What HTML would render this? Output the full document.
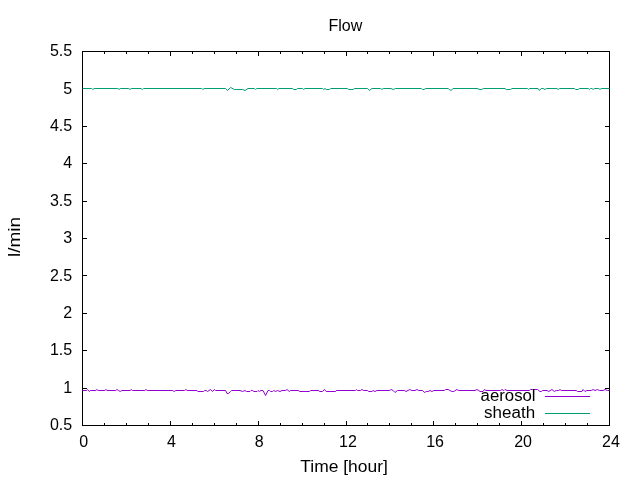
<!DOCTYPE html>
<html><head><meta charset="utf-8"><style>
html,body{margin:0;padding:0;background:#fff;}
svg{display:block;}
text{font-family:"Liberation Sans",sans-serif;font-size:16px;fill:#000;}
svg{will-change:transform;}
</style></head><body>
<svg width="640" height="480" viewBox="0 0 640 480">
<rect width="640" height="480" fill="#fff"/>
<path d="M82.50,425.50h4.5 M609.50,425.50h-4.5 M82.50,388.50h4.5 M609.50,388.50h-4.5 M82.50,350.50h4.5 M609.50,350.50h-4.5 M82.50,313.50h4.5 M609.50,313.50h-4.5 M82.50,275.50h4.5 M609.50,275.50h-4.5 M82.50,238.50h4.5 M609.50,238.50h-4.5 M82.50,201.50h4.5 M609.50,201.50h-4.5 M82.50,163.50h4.5 M609.50,163.50h-4.5 M82.50,126.50h4.5 M609.50,126.50h-4.5 M82.50,88.50h4.5 M609.50,88.50h-4.5 M82.50,51.50h4.5 M609.50,51.50h-4.5 M82.50,425.50v-4.5 M82.50,51.50v4.5 M104.50,425.50v-2.5 M104.50,51.50v2.5 M126.50,425.50v-2.5 M126.50,51.50v2.5 M148.50,425.50v-2.5 M148.50,51.50v2.5 M170.50,425.50v-4.5 M170.50,51.50v4.5 M192.50,425.50v-2.5 M192.50,51.50v2.5 M214.50,425.50v-2.5 M214.50,51.50v2.5 M236.50,425.50v-2.5 M236.50,51.50v2.5 M258.50,425.50v-4.5 M258.50,51.50v4.5 M280.50,425.50v-2.5 M280.50,51.50v2.5 M302.50,425.50v-2.5 M302.50,51.50v2.5 M324.50,425.50v-2.5 M324.50,51.50v2.5 M346.50,425.50v-4.5 M346.50,51.50v4.5 M367.50,425.50v-2.5 M367.50,51.50v2.5 M389.50,425.50v-2.5 M389.50,51.50v2.5 M411.50,425.50v-2.5 M411.50,51.50v2.5 M433.50,425.50v-4.5 M433.50,51.50v4.5 M455.50,425.50v-2.5 M455.50,51.50v2.5 M477.50,425.50v-2.5 M477.50,51.50v2.5 M499.50,425.50v-2.5 M499.50,51.50v2.5 M521.50,425.50v-4.5 M521.50,51.50v4.5 M543.50,425.50v-2.5 M543.50,51.50v2.5 M565.50,425.50v-2.5 M565.50,51.50v2.5 M587.50,425.50v-2.5 M587.50,51.50v2.5 M609.50,425.50v-4.5 M609.50,51.50v4.5" stroke="#000" stroke-width="1.0" fill="none"/>
<rect x="82.50" y="51.50" width="527.00" height="374.00" fill="none" stroke="#000" stroke-width="1.0"/>
<polyline points="82.50,390.50 86.70,390.50 87.40,389.50 89.50,391.50 90.30,390.50 95.80,390.50 96.90,389.50 98.20,390.50 104.80,390.50 105.90,389.50 107.10,390.50 115.80,390.50 116.90,389.50 118.50,390.50 120.25,391.50 121.80,390.50 130.10,390.50 131.25,389.50 132.50,390.50 144.80,390.50 145.90,389.50 147.20,390.50 172.60,390.50 174.30,391.50 175.80,390.50 184.40,390.50 185.80,389.50 187.20,390.50 197.00,390.50 197.80,391.50 203.60,391.50 204.60,390.50 206.20,390.50 207.50,391.50 210.60,389.50 212.50,391.50 214.40,389.50 215.60,390.50 225.60,390.50 227.00,393.50 228.40,393.50 230.60,391.50 231.50,390.50 240.00,390.50 242.50,391.50 245.00,390.50 246.50,391.50 250.00,391.50 251.00,390.50 252.50,390.50 254.00,391.50 257.00,391.50 258.00,390.50 259.40,391.50 261.00,390.50 263.00,390.50 265.60,395.50 268.00,390.50 269.50,390.50 270.60,391.50 272.50,391.50 273.75,390.50 275.60,391.50 277.50,390.50 280.00,391.50 282.00,390.50 285.60,390.50 287.00,389.50 289.40,391.50 290.60,390.50 298.75,390.50 299.40,391.50 309.40,391.50 310.60,390.50 318.75,390.50 319.40,391.50 322.50,391.50 324.40,389.50 326.25,391.50 335.60,391.50 336.25,390.50 355.60,390.50 356.50,389.50 357.50,390.50 360.60,390.50 361.90,389.50 363.75,390.50 367.50,390.50 368.75,391.50 371.90,391.50 373.10,390.50 375.00,391.50 376.90,390.50 389.40,390.50 391.25,389.50 393.10,390.50 395.00,392.50 397.50,390.50 404.40,390.50 406.00,391.50 409.75,389.50 411.90,390.50 415.00,390.50 416.90,389.50 418.75,390.50 422.50,390.50 424.40,392.50 426.25,391.50 428.10,391.50 430.00,390.50 431.90,391.50 433.75,390.50 444.40,390.50 445.60,389.50 448.10,389.50 450.00,390.50 451.90,391.50 453.75,391.50 456.90,389.50 458.75,390.50 475.00,390.50 476.90,389.50 478.75,390.50 480.00,391.50 483.00,391.50 484.40,389.50 486.00,390.50 500.50,390.50 501.90,389.50 503.40,390.50 504.00,390.50 505.00,389.50 507.00,390.50 529.40,390.50 530.60,389.50 532.50,389.50 535.00,389.50 537.50,389.50 540.00,391.50 541.25,391.50 542.50,390.50 547.00,390.50 548.75,391.50 551.90,389.50 554.40,391.50 556.25,390.50 558.75,390.50 560.00,389.50 561.25,390.50 576.25,390.50 577.50,391.50 581.90,391.50 583.10,389.50 585.00,391.50 586.90,390.50 591.25,390.50 593.10,389.50 595.00,390.50 597.50,389.50 599.40,390.50 603.10,390.50 605.00,389.50 607.50,390.50 609.50,390.50" fill="none" stroke="#9400d3" stroke-width="1" stroke-linejoin="miter"/>
<polyline points="82.60,88.50 91.70,88.50 92.90,89.50 94.10,88.50 117.80,88.50 119.00,89.50 120.20,88.50 128.80,88.50 130.00,89.50 131.20,88.50 141.05,88.50 142.25,89.50 143.45,88.50 201.70,88.50 202.90,89.50 204.10,88.50 225.60,88.50 227.50,90.50 230.60,87.50 234.40,89.50 236.25,89.50 242.50,89.50 245.00,90.50 248.00,88.50 254.40,88.50 255.60,89.50 256.80,88.50 276.60,88.50 277.75,89.50 278.90,88.50 292.50,88.50 293.75,89.50 296.25,89.50 297.50,88.50 302.60,88.50 303.75,89.50 304.90,88.50 322.60,88.50 323.75,89.50 325.00,88.50 326.25,89.50 329.40,89.50 330.60,88.50 347.50,88.50 348.75,89.50 353.10,89.50 354.40,88.50 367.50,88.50 369.40,90.50 371.90,88.50 380.60,88.50 381.90,89.50 383.20,88.50 391.00,88.50 393.10,89.50 395.50,88.50 421.30,88.50 422.50,89.50 424.00,89.50 425.50,88.50 448.20,88.50 449.40,89.50 451.25,90.50 453.00,88.50 477.00,88.50 480.00,89.50 481.25,89.50 483.75,88.50 505.00,88.50 506.25,89.50 510.60,89.50 511.90,88.50 527.30,88.50 528.50,89.50 529.40,88.50 538.10,88.50 539.40,90.50 541.25,88.50 543.10,88.50 545.00,89.50 546.25,88.50 556.90,88.50 558.10,89.50 559.30,88.50 574.40,88.50 575.60,89.50 578.10,89.50 579.30,88.50 588.20,88.50 589.40,89.50 590.60,88.50 591.90,88.50 593.10,89.50 594.30,88.50 598.80,88.50 600.00,89.50 601.20,88.50 609.50,88.50" fill="none" stroke="#009e73" stroke-width="1" stroke-linejoin="miter"/>
<text x="72.2" y="430.20" text-anchor="end">0.5</text><text x="72.2" y="392.80" text-anchor="end">1</text><text x="72.2" y="355.40" text-anchor="end">1.5</text><text x="72.2" y="318.00" text-anchor="end">2</text><text x="72.2" y="280.60" text-anchor="end">2.5</text><text x="72.2" y="243.20" text-anchor="end">3</text><text x="72.2" y="205.80" text-anchor="end">3.5</text><text x="72.2" y="168.40" text-anchor="end">4</text><text x="72.2" y="131.00" text-anchor="end">4.5</text><text x="72.2" y="93.60" text-anchor="end">5</text><text x="72.2" y="56.20" text-anchor="end">5.5</text>
<text x="83.70" y="447.0" text-anchor="middle">0</text><text x="171.33" y="447.0" text-anchor="middle">4</text><text x="259.17" y="447.0" text-anchor="middle">8</text><text x="348.00" y="447.0" text-anchor="middle">12</text><text x="435.03" y="447.0" text-anchor="middle">16</text><text x="523.07" y="447.0" text-anchor="middle">20</text><text x="611.00" y="447.0" text-anchor="middle">24</text>
<text x="345.3" y="30.9" text-anchor="middle">Flow</text>
<text x="344.1" y="471.9" text-anchor="middle" textLength="87.5" lengthAdjust="spacingAndGlyphs">Time [hour]</text>
<text transform="translate(20.2,237) rotate(-90)" text-anchor="middle" textLength="40.0" lengthAdjust="spacingAndGlyphs">l/min</text>
<text x="535.6" y="400.9" text-anchor="end" textLength="55.0" lengthAdjust="spacingAndGlyphs">aerosol</text>
<text x="535.1" y="417.6" text-anchor="end" textLength="51.0" lengthAdjust="spacingAndGlyphs">sheath</text>
<path d="M545,396.5H590" stroke="#9400d3" stroke-width="1"/>
<path d="M545,413.5H590" stroke="#009e73" stroke-width="1"/>
</svg>
</body></html>
